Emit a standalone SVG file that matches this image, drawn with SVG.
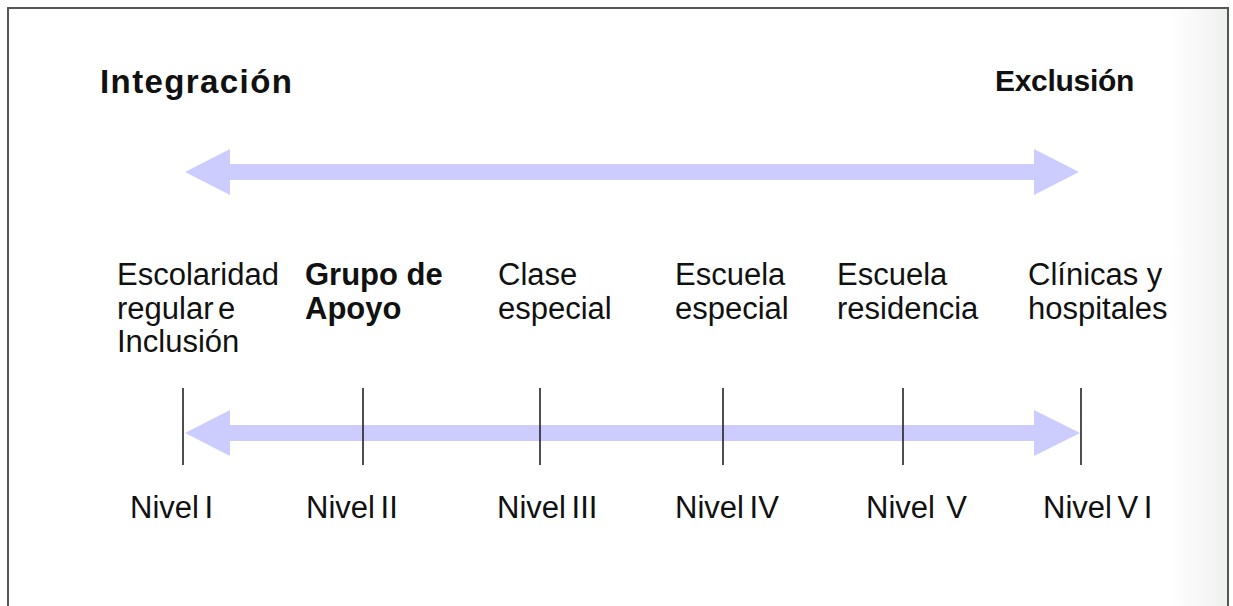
<svg xmlns="http://www.w3.org/2000/svg" width="1233" height="606" viewBox="0 0 1233 606">
<defs>
<linearGradient id="edge" x1="0" y1="0" x2="1" y2="0">
<stop offset="0" stop-color="#ffffff"/>
<stop offset="1" stop-color="#eef0ee"/>
</linearGradient>
</defs>
<style>
text{font-family:"Liberation Sans",Arial,sans-serif;fill:#111;}
.h{font-weight:bold;}
.t{font-size:31px;}
.b{font-size:31px;font-weight:bold;}
.n{font-size:31px;word-spacing:-3px;white-space:pre;}
.arrow{fill:#ccccff;}
.tick{stroke:#222;stroke-width:1.6;}
</style>
<rect x="0" y="0" width="1233" height="606" fill="#ffffff"/>
<rect x="1170" y="8" width="58" height="598" fill="url(#edge)"/>
<path d="M8 606 V8 H1228 V606" fill="none" stroke="#555" stroke-width="2"/>

<g id="integracion"><text class="h" x="100" y="93" font-size="33" letter-spacing="1.4">Integración</text></g>
<g id="exclusion"><text class="h" x="995" y="91" font-size="30" letter-spacing="-0.3">Exclusión</text></g>

<g id="connectors">
<polygon class="arrow" points="185,172 230,149 230,164 1034,164 1034,149 1079,172 1034,195 1034,180 230,180 230,195"/>
<polygon class="arrow" points="185,433 230,410 230,425 1034,425 1034,410 1080,433 1034,456 1034,441 230,441 230,456"/>
</g>

<g id="ticks">
<line class="tick" x1="183" y1="388" x2="183" y2="465"/>
<line class="tick" x1="363" y1="388" x2="363" y2="465"/>
<line class="tick" x1="540" y1="388" x2="540" y2="465"/>
<line class="tick" x1="723" y1="388" x2="723" y2="465"/>
<line class="tick" x1="903" y1="388" x2="903" y2="465"/>
<line class="tick" x1="1081" y1="388" x2="1081" y2="465"/>
</g>

<g id="nivel1">
<text class="t" x="117" y="285">Escolaridad</text>
<text class="t" x="117" y="319" word-spacing="-4">regular e</text>
<text class="t" x="117" y="352">Inclusión</text>
<text class="n" x="130" y="518">Nivel I</text>
</g>
<g id="nivel2">
<text class="b" x="305" y="285">Grupo de</text>
<text class="b" x="305" y="319">Apoyo</text>
<text class="n" x="306" y="518">Nivel II</text>
</g>
<g id="nivel3">
<text class="t" x="498" y="285">Clase</text>
<text class="t" x="498" y="319">especial</text>
<text class="n" x="497" y="518">Nivel III</text>
</g>
<g id="nivel4">
<text class="t" x="675" y="285">Escuela</text>
<text class="t" x="675" y="319">especial</text>
<text class="n" x="675" y="518">Nivel IV</text>
</g>
<g id="nivel5">
<text class="t" x="837" y="285">Escuela</text>
<text class="t" x="837" y="319">residencia</text>
<text class="n" x="866" y="518">Nivel  V</text>
</g>
<g id="nivel6">
<text class="t" x="1028" y="285">Clínicas y</text>
<text class="t" x="1028" y="319">hospitales</text>
<text class="n" x="1043" y="518">Nivel V I</text>
</g>
</svg>
